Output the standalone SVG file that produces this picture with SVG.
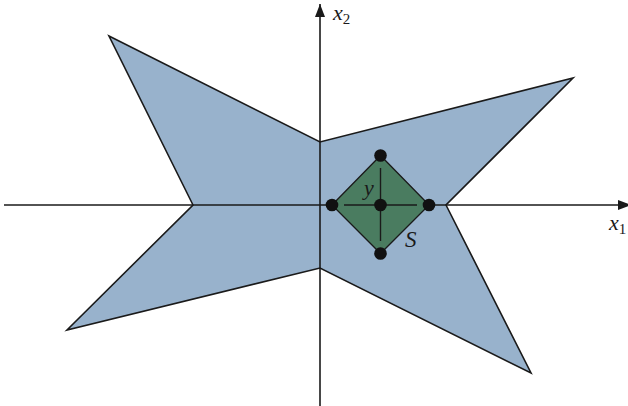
<svg xmlns="http://www.w3.org/2000/svg" width="628" height="406" viewBox="0 0 628 406">
<defs>
<style>
.poly{fill:#98b2cc;stroke:#1a1a1a;stroke-width:1.6;stroke-linejoin:miter}
.sq{fill:#4a7c60;stroke:#1a1a1a;stroke-width:1.3}
.ax{stroke:#1a1a1a;stroke-width:1.6;fill:none}
.cr{stroke:#1a1a1a;stroke-width:1.4}
.pt{fill:#111111}
.lb{font-family:"Liberation Serif","DejaVu Serif",serif;font-style:italic;fill:#1a1a1a}
.sub{font-family:"Liberation Serif","DejaVu Serif",serif;fill:#1a1a1a}
</style>
<marker id="ah" viewBox="0 0 13 10" refX="13" refY="5" markerWidth="13" markerHeight="10" markerUnits="userSpaceOnUse" orient="auto">
<path d="M0,0 L13,5 L0,10 z" fill="#1a1a1a"/>
</marker>
</defs>
<g id="region">
<polygon class="poly" points="109,36 320,142 573,78 446,205 531,373 320,268 67,330 193,205"/>
</g>
<g id="connectors">
<line class="ax" x1="4" y1="205" x2="631" y2="205" marker-end="url(#ah)"/>
<line class="ax" x1="320" y1="406" x2="320" y2="4" marker-end="url(#ah)"/>
</g>
<g id="S">
<polygon class="sq" points="332,205 380.5,155.5 429,205 380.5,253.5"/>
<line class="cr" x1="344" y1="205" x2="417" y2="205"/>
<line class="cr" x1="380.5" y1="168" x2="380.5" y2="241"/>
<text class="lb" x="405" y="247" font-size="23">S</text>
</g>
<g id="points">
<circle class="pt" cx="332" cy="205" r="6.3"/>
<circle class="pt" cx="380.5" cy="155.5" r="6.3"/>
<circle class="pt" cx="429" cy="205" r="6.3"/>
<circle class="pt" cx="380.5" cy="253.5" r="6.3"/>
<circle class="pt" cx="380.5" cy="205" r="6.3"/>
</g>
<g id="y">
<text class="lb" x="364" y="195" font-size="22">y</text>
</g>
<g id="x1-label">
<text class="lb" x="609" y="230" font-size="22">x<tspan class="sub" font-style="normal" font-size="15" dy="4">1</tspan></text>
</g>
<g id="x2-label">
<text class="lb" x="333" y="20" font-size="22">x<tspan class="sub" font-style="normal" font-size="15" dy="4">2</tspan></text>
</g>
</svg>
